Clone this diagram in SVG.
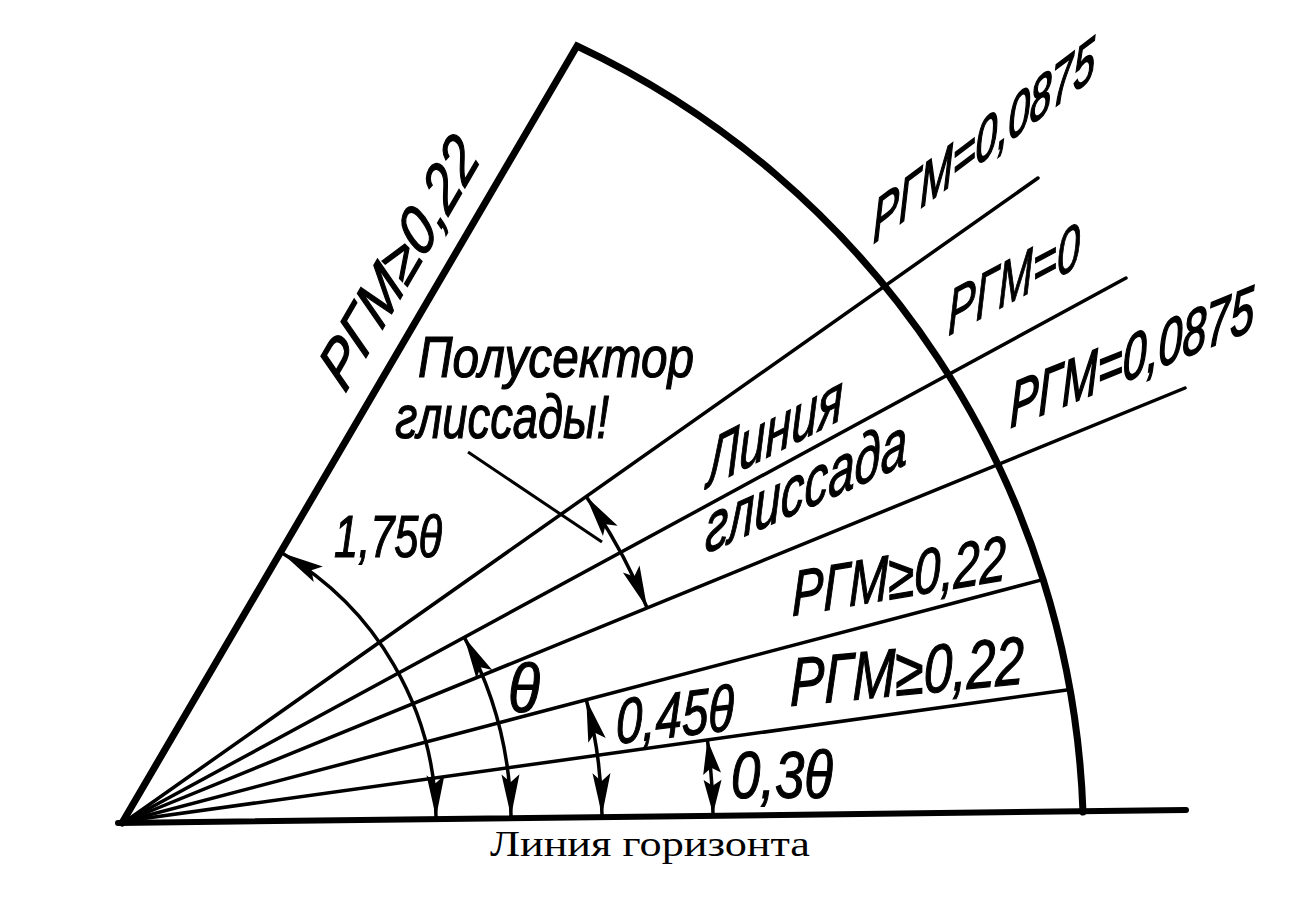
<svg xmlns="http://www.w3.org/2000/svg" width="1295" height="912" viewBox="0 0 1295 912">
<style>
.thick{fill:none;stroke:#000;stroke-width:7;stroke-linejoin:miter;stroke-linecap:round}
.hz{fill:none;stroke:#000;stroke-width:6;stroke-linecap:round}
.ray{fill:none;stroke:#000;stroke-width:3.5;stroke-linecap:round}
.dim{fill:none;stroke:#000;stroke-width:3.5;marker-start:url(#ah);marker-end:url(#ah)}
.dims{fill:none;stroke:#000;stroke-width:3.5;marker-start:url(#ahs);marker-end:url(#ahs)}
.lead{fill:none;stroke:#000;stroke-width:3}
.lbl{font-family:"Liberation Sans",Arial,sans-serif;font-style:italic;fill:#000;stroke:#000;stroke-width:1.2}
.cap{font-family:"Liberation Serif","Times New Roman",serif;fill:#000}
</style>
<defs>
<marker id="ah" markerUnits="userSpaceOnUse" markerWidth="60" markerHeight="30" viewBox="-50 -15 60 30" refX="0" refY="0" orient="auto-start-reverse" overflow="visible">
<path d="M0,0 L-42,-9 L-34,0 L-42,9 Z" fill="#000"/>
</marker>
<marker id="ahs" markerUnits="userSpaceOnUse" markerWidth="60" markerHeight="30" viewBox="-50 -15 60 30" refX="0" refY="0" orient="auto-start-reverse" overflow="visible">
<path d="M0,0 L-34,-9 L-28,0 L-34,9 Z" fill="#000"/>
</marker>
</defs>
<rect width="1295" height="912" fill="#fff"/>
<g id="sector">
<path class="thick" d="M122,823 L577,46 A881,881 0 0 1 1083,812"/>
<line class="hz" x1="118" y1="823" x2="1186" y2="810"/>
</g>
<g id="connectors">
<line class="ray" x1="126" y1="821" x2="1038" y2="178"/>
<line class="ray" x1="126" y1="821" x2="1126" y2="278"/>
<line class="ray" x1="126" y1="821" x2="1185" y2="388"/>
<line class="ray" x1="126" y1="821" x2="1043.6" y2="579.4"/>
<line class="ray" x1="126" y1="821" x2="1070.4" y2="689.4"/>
<path class="dim" d="M282,553.1 A310,310 0 0 1 436,817.2"/>
<path class="dim" d="M464.3,637.3 A385,385 0 0 1 511,816.3"/>
<path class="dim" d="M586.3,699.8 A476,476 0 0 1 602,815.2"/>
<path class="dims" d="M707.4,740 A587,587 0 0 1 713,813.8"/>
<path class="dim" d="M586.1,496.5 A563,563 0 0 1 647.1,607.9"/>
<line class="lead" x1="468" y1="452" x2="602" y2="542"/>
</g>
<g id="label-edge"><text class="lbl" font-size="58" textLength="272" lengthAdjust="spacingAndGlyphs" transform="translate(345,394) rotate(-59.8) skewX(-15)">РГМ≥0,22</text></g>
<g id="label-top"><text class="lbl" font-size="40" stroke-width="0.9" textLength="222" lengthAdjust="spacingAndGlyphs" transform="translate(873,244) skewY(-37) scale(1,1.5)">РГМ=0,0875</text></g>
<g id="label-zero"><text class="lbl" font-size="64" textLength="132" lengthAdjust="spacingAndGlyphs" transform="translate(948,336) skewY(-28)">РГМ=0</text></g>
<g id="label-low0875"><text class="lbl" font-size="43" stroke-width="0.9" textLength="244" lengthAdjust="spacingAndGlyphs" transform="translate(1010,428) skewY(-22) scale(1,1.49)">РГМ=0,0875</text></g>
<g id="label-liniya"><text class="lbl" font-size="68" textLength="136" lengthAdjust="spacingAndGlyphs" transform="translate(707,488) skewY(-27)">Линия</text></g>
<g id="label-glissada"><text class="lbl" font-size="70" textLength="202" lengthAdjust="spacingAndGlyphs" transform="translate(705,554) skewY(-24)">глиссада</text></g>
<g id="label-polusektor">
<text class="lbl" font-size="58" textLength="276" lengthAdjust="spacingAndGlyphs" x="418" y="377">Полусектор</text>
<text class="lbl" font-size="62" textLength="214" lengthAdjust="spacingAndGlyphs" x="395" y="438">глиссады!</text>
</g>
<g id="label-175"><text class="lbl" font-size="60" textLength="108" lengthAdjust="spacingAndGlyphs" x="334" y="557">1,75θ</text></g>
<g id="label-theta"><text class="lbl" font-size="68" textLength="32" lengthAdjust="spacingAndGlyphs" x="508" y="712">θ</text></g>
<g id="label-045"><text class="lbl" font-size="64" textLength="118" lengthAdjust="spacingAndGlyphs" transform="translate(616,744) skewY(-7)">0,45θ</text></g>
<g id="label-03"><text class="lbl" font-size="66" textLength="102" lengthAdjust="spacingAndGlyphs" x="731" y="798">0,3θ</text></g>
<g id="label-022a"><text class="lbl" font-size="64" textLength="214" lengthAdjust="spacingAndGlyphs" transform="translate(792,616) skewY(-9.6)">РГМ≥0,22</text></g>
<g id="label-022b"><text class="lbl" font-size="68" textLength="234" lengthAdjust="spacingAndGlyphs" transform="translate(790,706) skewY(-5.5)">РГМ≥0,22</text></g>
<g id="label-horizon"><text class="cap" font-size="36" textLength="320" lengthAdjust="spacingAndGlyphs" x="490" y="856">Линия горизонта</text></g>
</svg>
